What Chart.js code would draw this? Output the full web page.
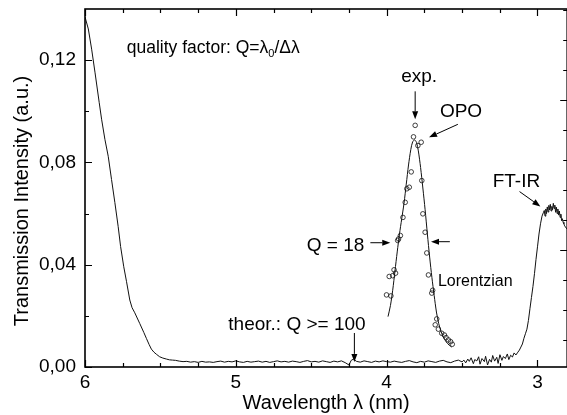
<!DOCTYPE html>
<html>
<head>
<meta charset="utf-8">
<script src="https://cdn.jsdelivr.net/npm/chart.js@4.4.0/dist/chart.umd.min.js"></script>
<style>
html, body { margin: 0; padding: 0; overflow: hidden; background: #fff; }
#wrap { width: 572px; height: 415px; }
</style>
</head>
<body>
<div id="wrap"><canvas id="graph1" width="572" height="415"></canvas></div>
<script>
// transmission spectrum (thin line), wavelength in nm
var spec_lambda = [6.000, 5.978, 5.956, 5.934, 5.906, 5.890, 5.868, 5.846, 5.824, 5.802,
  5.780, 5.764, 5.743, 5.725, 5.703, 5.688, 5.670, 5.637, 5.610, 5.593,
  5.575, 5.560, 5.543, 5.527, 5.505, 5.484, 5.460, 5.440, 5.420,
  5.400, 5.375, 5.350, 5.325, 5.300, 5.275, 5.250, 5.225, 5.200, 5.175,
  5.150, 5.125, 5.100, 5.075, 5.050, 5.025, 5.000, 4.975, 4.950, 4.925,
  4.900, 4.875, 4.850, 4.825, 4.800, 4.775, 4.750, 4.725, 4.700, 4.675,
  4.650, 4.625, 4.600, 4.575, 4.550, 4.525, 4.500, 4.475, 4.450, 4.425,
  4.400, 4.375, 4.350, 4.325, 4.300, 4.275, 4.250, 4.235, 4.220, 4.200,
  4.175, 4.150, 4.125, 4.100, 4.075, 4.050, 4.025, 4.000, 3.975, 3.950,
  3.925, 3.900, 3.875, 3.850, 3.825, 3.800, 3.775, 3.750, 3.725, 3.700,
  3.675, 3.650, 3.625, 3.600, 3.575, 3.550, 3.525, 3.500,
  3.488, 3.476, 3.462, 3.452, 3.440, 3.425, 3.416, 3.402, 3.390, 3.381,
  3.368, 3.352, 3.344, 3.331, 3.318, 3.306, 3.297, 3.284, 3.270, 3.261,
  3.249, 3.236, 3.226, 3.213, 3.200, 3.190, 3.178, 3.166, 3.155, 3.143,
  3.130, 3.120, 3.110, 3.100, 3.090, 3.080, 3.070, 3.060, 3.050, 3.040,
  3.030, 3.020, 3.010, 3.000, 2.990, 2.980, 2.970, 2.960, 2.955, 2.950,
  2.945, 2.940, 2.935, 2.930, 2.925, 2.920, 2.915, 2.910, 2.905, 2.900,
  2.895, 2.890, 2.885, 2.880, 2.875, 2.870, 2.865, 2.860, 2.855, 2.850,
  2.845, 2.840, 2.835, 2.830, 2.825, 2.820, 2.815, 2.805];
var spec_int = [0.1369, 0.1322, 0.1243, 0.1153, 0.1035, 0.0969, 0.0890, 0.0824, 0.0733, 0.0643,
  0.0549, 0.0471, 0.0392, 0.0335, 0.0262, 0.0232, 0.0212, 0.0170, 0.0135, 0.0112,
  0.0088, 0.0070, 0.0058, 0.0050, 0.0040, 0.0035, 0.0031, 0.0028, 0.0027,
  0.0026, 0.0023, 0.0021, 0.0022, 0.0019, 0.0021, 0.0018, 0.0022, 0.0019, 0.0020,
  0.0018, 0.0021, 0.0023, 0.0019, 0.0022, 0.0020, 0.0024, 0.0020, 0.0018, 0.0022,
  0.0019, 0.0021, 0.0023, 0.0019, 0.0022, 0.0018, 0.0021, 0.0024, 0.0020, 0.0022,
  0.0019, 0.0023, 0.0021, 0.0018, 0.0022, 0.0025, 0.0020, 0.0022, 0.0019, 0.0024,
  0.0021, 0.0018, 0.0023, 0.0020, 0.0024, 0.0017, 0.0008, 0.0026, 0.0031, 0.0022,
  0.0019, 0.0024, 0.0021, 0.0018, 0.0023, 0.0020, 0.0024, 0.0021, 0.0019, 0.0023,
  0.0020, 0.0018, 0.0022, 0.0025, 0.0020, 0.0017, 0.0022, 0.0019, 0.0024, 0.0021,
  0.0018, 0.0023, 0.0026, 0.0020, 0.0017, 0.0023, 0.0027, 0.0020,
  0.0027, 0.0016, 0.0031, 0.0022, 0.0036, 0.0013, 0.0029, 0.0024, 0.0040, 0.0011,
  0.0033, 0.0021, 0.0042, 0.0008, 0.0030, 0.0019, 0.0045, 0.0023, 0.0038, 0.0014,
  0.0048, 0.0026, 0.0041, 0.0033, 0.0051, 0.0029, 0.0046, 0.0039, 0.0055, 0.0047,
  0.0058, 0.0066, 0.0078, 0.0090, 0.0112, 0.0130, 0.0148, 0.0182, 0.0228, 0.0272,
  0.0315, 0.0365, 0.0420, 0.0470, 0.0520, 0.0560, 0.0590, 0.0605, 0.0612, 0.0590,
  0.0618, 0.0600, 0.0626, 0.0606, 0.0632, 0.0614, 0.0636, 0.0610, 0.0628, 0.0615,
  0.0640, 0.0620, 0.0633, 0.0605, 0.0625, 0.0600, 0.0618, 0.0594, 0.0610, 0.0585,
  0.0598, 0.0572, 0.0580, 0.0566, 0.0560, 0.0552, 0.0548, 0.0540];

// Lorentzian fit
var fit_lambda = [3.991, 3.975, 3.960, 3.945, 3.930, 3.915, 3.900, 3.885, 3.870, 3.855,
  3.840, 3.828, 3.815, 3.802, 3.790, 3.775, 3.760, 3.745, 3.730, 3.715,
  3.700, 3.685, 3.670, 3.655, 3.640, 3.625, 3.605, 3.585, 3.569];
var fit_int = [0.0197, 0.0240, 0.0300, 0.0375, 0.0450, 0.0520, 0.0580, 0.0640, 0.0715, 0.0790,
  0.0850, 0.0880, 0.0888, 0.0878, 0.0845, 0.0780, 0.0700, 0.0615, 0.0520, 0.0430,
  0.0350, 0.0280, 0.0215, 0.0170, 0.0140, 0.0118, 0.0098, 0.0085, 0.0078];

// OPO measurement (open circles)
var exp_lambda = [3.811, 3.822, 3.793, 3.771, 3.837, 3.767, 3.866, 3.850, 3.877, 3.760,
  3.892, 3.745, 3.909, 3.921, 3.927, 3.734, 3.951, 3.941, 3.983, 3.960,
  3.723, 3.695, 3.701, 4.001, 3.972, 3.668, 3.678, 3.657, 3.635, 3.617,
  3.606, 3.591, 3.576, 3.565];
var exp_int = [0.0945, 0.0900, 0.0866, 0.0879, 0.0763, 0.0729, 0.0697, 0.0703, 0.0644, 0.0599,
  0.0585, 0.0527, 0.0514, 0.0501, 0.0495, 0.0446, 0.0380, 0.0367, 0.0354, 0.0357,
  0.0360, 0.0300, 0.0289, 0.0282, 0.0278, 0.0188, 0.0165, 0.0148, 0.0132, 0.0125,
  0.0115, 0.0106, 0.0099, 0.0089];

// ticks
var x_major = [6, 5, 4, 3];
var x_minor = [5.75, 5.5, 5.25, 4.75, 4.5, 4.25, 3.75, 3.5, 3.25];
var y_major = [0, 0.04, 0.08, 0.12];
var y_minor = [0.02, 0.06, 0.10];
var y2_major = [1, 2];
var y2_minor = [0.4, 0.6, 0.8, 1.2, 1.4, 1.6, 1.8, 2.2, 2.4, 2.6];

var FONT = '"Liberation Sans", Arial, sans-serif';

function toPts(xs, ys) {
  var out = [];
  for (let i = 0; i < xs.length; i++) out.push({x: xs[i], y: ys[i]});
  return out;
}

function arrow(ctx, x1, y1, x2, y2) {
  var a = Math.atan2(y2 - y1, x2 - x1);
  var L = 8, W = 3;
  ctx.beginPath();
  ctx.moveTo(x1, y1);
  ctx.lineTo(x2 - L * Math.cos(a), y2 - L * Math.sin(a));
  ctx.stroke();
  ctx.beginPath();
  ctx.moveTo(x2, y2);
  ctx.lineTo(x2 - L * Math.cos(a) + W * Math.sin(a), y2 - L * Math.sin(a) - W * Math.cos(a));
  ctx.lineTo(x2 - L * Math.cos(a) - W * Math.sin(a), y2 - L * Math.sin(a) + W * Math.cos(a));
  ctx.closePath();
  ctx.fill();
}

// text labels and arrows, anchored in data coordinates
var notes = [
  {t: 'exp.', l: 3.904, v: 0.1114, s: 19},
  {t: 'OPO', l: 3.647, v: 0.0977, s: 19},
  {t: 'FT-IR', l: 3.297, v: 0.0702, s: 19},
  {t: 'Q = 18', l: 4.530, v: 0.0453, s: 19},
  {t: 'Lorentzian', l: 3.660, v: 0.0318, s: 16},
  {t: 'theor.: Q >= 100', l: 5.050, v: 0.0145, s: 19}
];
var arrows = [
  [3.811, 0.1078, 3.811, 0.0969],
  [3.528, 0.0949, 3.719, 0.0898],
  [3.119, 0.0686, 2.981, 0.0628],
  [4.108, 0.0486, 3.976, 0.0486],
  [3.581, 0.0490, 3.706, 0.0490],
  [4.214, 0.0133, 4.214, 0.0020]
];

var decor = {
  id: 'decor',
  afterDraw(chart) {
    const ctx = chart.ctx, a = chart.chartArea;
    const sx = chart.scales.x, sy = chart.scales.y, sy2 = chart.scales.y2;
    ctx.save();
    ctx.strokeStyle = '#000';
    ctx.fillStyle = '#000';
    // frame
    ctx.lineWidth = 1.6;
    ctx.strokeRect(a.left, a.top, a.right - a.left, a.bottom - a.top);
    // inward ticks
    ctx.lineWidth = 1.2;
    ctx.beginPath();
    x_major.concat(x_minor).forEach(function (v) {
      const p = Math.round(sx.getPixelForValue(v)) + 0.5;
      const len = x_major.indexOf(v) >= 0 ? 7 : 4;
      ctx.moveTo(p, a.bottom); ctx.lineTo(p, a.bottom - len);
      ctx.moveTo(p, a.top); ctx.lineTo(p, a.top + len);
    });
    y_major.concat(y_minor).forEach(function (v) {
      const p = Math.round(sy.getPixelForValue(v)) + 0.5;
      const len = y_major.indexOf(v) >= 0 ? 7 : 4;
      ctx.moveTo(a.left, p); ctx.lineTo(a.left + len, p);
    });
    y2_major.concat(y2_minor).forEach(function (v) {
      const p = Math.round(sy2.getPixelForValue(v)) + 0.5;
      const len = y2_major.indexOf(v) >= 0 ? 7 : 4;
      ctx.moveTo(a.right, p); ctx.lineTo(a.right - len, p);
    });
    ctx.stroke();

    // arrows
    ctx.lineWidth = 1;
    arrows.forEach(function (r) {
      arrow(ctx, sx.getPixelForValue(r[0]), sy.getPixelForValue(r[1]),
                 sx.getPixelForValue(r[2]), sy.getPixelForValue(r[3]));
    });

    // labels
    ctx.textAlign = 'left';
    ctx.textBaseline = 'alphabetic';
    notes.forEach(function (n) {
      ctx.font = n.s + 'px ' + FONT;
      ctx.fillText(n.t, sx.getPixelForValue(n.l), sy.getPixelForValue(n.v));
    });

    // quality factor with subscript
    let qx = sx.getPixelForValue(5.723), qy = sy.getPixelForValue(0.1228);
    ctx.font = '17.5px ' + FONT;
    let s1 = 'quality factor: Q=\u03bb';
    ctx.fillText(s1, qx, qy);
    qx += ctx.measureText(s1).width;
    ctx.font = '11px ' + FONT;
    ctx.fillText('0', qx, qy + 4);
    qx += ctx.measureText('0').width;
    ctx.font = '17.5px ' + FONT;
    ctx.fillText('/\u0394\u03bb', qx, qy);

    // y title
    ctx.translate(22, 201);
    ctx.rotate(-Math.PI / 2);
    ctx.textAlign = 'center';
    ctx.textBaseline = 'middle';
    ctx.font = '20px ' + FONT;
    ctx.fillText('Transmission Intensity (a.u.)', 0, 0);
    ctx.restore();
  }
};

function noPad(s) {
  s.paddingTop = 0; s.paddingBottom = 0; s.paddingLeft = 0; s.paddingRight = 0;
}

var ctx = document.getElementById('graph1').getContext('2d');
const myChart = new Chart(ctx, {
  type: 'line',
  data: {
    datasets: [
      {
        label: 'spectrum',
        data: toPts(spec_lambda, spec_int),
        borderColor: '#111',
        borderWidth: 1,
        pointRadius: 0,
        tension: 0
      },
      {
        label: 'Lorentzian',
        data: toPts(fit_lambda, fit_int),
        borderColor: '#111',
        borderWidth: 1,
        pointRadius: 0,
        tension: 0.3
      },
      {
        label: 'exp.',
        data: toPts(exp_lambda, exp_int),
        showLine: false,
        pointStyle: 'circle',
        pointRadius: 2.3,
        pointBorderWidth: 0.8,
        pointBorderColor: '#111',
        pointBackgroundColor: 'rgba(255,255,255,0)'
      }
    ]
  },
  plugins: [decor],
  options: {
    responsive: false,
    animation: false,
    devicePixelRatio: 1,
    layout: { padding: { top: 9, left: 0, right: 0, bottom: 0 } },
    plugins: { legend: { display: false }, tooltip: { enabled: false } },
    scales: {
      x: {
        type: 'linear',
        reverse: true,
        min: 2.803,
        max: 6,
        grid: { display: false, drawTicks: false },
        border: { display: false },
        afterBuildTicks: function (s) { s.ticks = x_major.map(v => ({value: v})); },
        afterFit: function (s) { s.height = 48; noPad(s); },
        ticks: {
          padding: 4, maxRotation: 0, autoSkip: false, color: '#000',
          font: { family: FONT, size: 19 },
          callback: v => String(v)
        },
        title: {
          display: true, text: 'Wavelength \u03bb (nm)', color: '#000',
          font: { family: FONT, size: 20 }, padding: { top: 0, bottom: 0 }
        }
      },
      y: {
        position: 'left',
        min: 0,
        max: 0.14,
        grid: { display: false, drawTicks: false },
        border: { display: false },
        afterBuildTicks: function (s) { s.ticks = y_major.map(v => ({value: v})); },
        afterFit: function (s) { s.width = 85; noPad(s); },
        ticks: {
          padding: 9, color: '#000',
          font: { family: FONT, size: 19 },
          callback: v => v.toFixed(2).replace('.', ',')
        }
      },
      y2: {
        position: 'right',
        min: 0.22,
        max: 2.607,
        grid: { display: false, drawTicks: false },
        border: { display: false },
        ticks: { display: false },
        afterFit: function (s) { s.width = 2; noPad(s); }
      }
    }
  }
});
</script>
</body>
</html>
